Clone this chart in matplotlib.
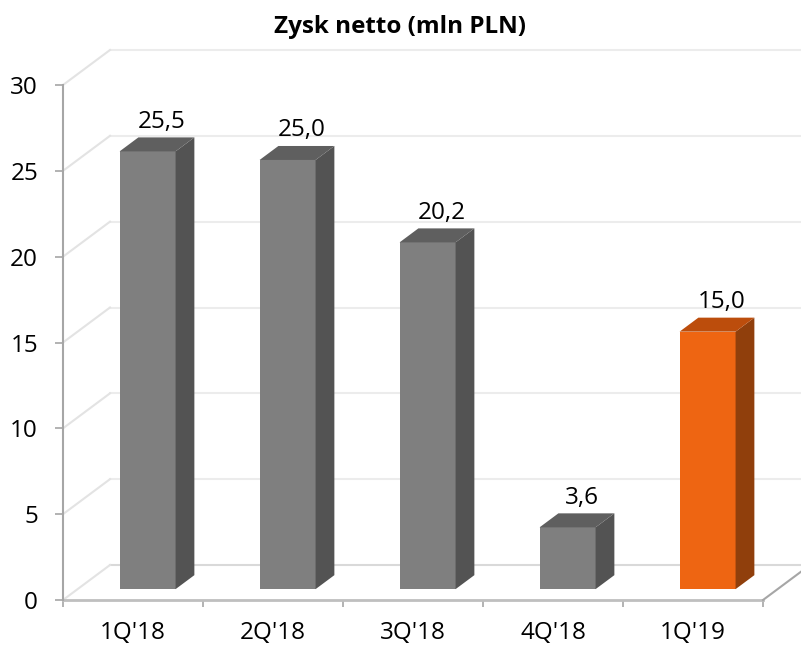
import numpy as np
import matplotlib.pyplot as plt

plt.rcParams['font.family'] = ['Open Sans', 'DejaVu Sans']

categories = ["1Q'18", "2Q'18", "3Q'18", "4Q'18", "1Q'19"]
values = [25.5, 25.0, 20.2, 3.6, 15.0]
labels = ["25,5", "25,0", "20,2", "3,6", "15,0"]
yticks = [0, 5, 10, 15, 20, 25, 30]

front_cols = ['#7f7f7f'] * 4 + ['#ee6512']
side_cols = ['#535353'] * 4 + ['#903f0c']
top_cols = ['#5f5f5f'] * 4 + ['#bc4d0c']

fig = plt.figure(figsize=(8.01, 6.45), dpi=100)
ax = fig.add_axes([63 / 801, 45 / 645, 738 / 801, 515 / 645])
ax.set_xlim(-0.5, -0.5 + 738 / 140)
ax.set_ylim(0, 30)

# depth of the "3d" box (data units)
DDX = 47 / 140
DDY = 35 / (515 / 30)

n = len(categories)
x = np.arange(n)

# walls: back gridlines, left wall diagonals, floor
for v in yticks:
    col = '#d9d9d9' if v == 0 else '#ececec'
    ax.plot([-0.5 + DDX, n - 0.5 + DDX], [v + DDY, v + DDY], color=col, lw=1.5,
            clip_on=False, zorder=1)
    ax.plot([-0.5, -0.5 + DDX], [v, v + DDY], color='#e3e3e3', lw=1.5,
            clip_on=False, zorder=1)
ax.plot([-0.5, n - 0.5], [0, 0], color='#bfbfbf', lw=2, clip_on=False, zorder=2)
ax.plot([n - 0.5, n - 0.5 + DDX], [0, DDY], color='#a6a6a6', lw=1.5,
        clip_on=False, zorder=2)

# bars
bw = 0.4
d0 = 0.31
bdx = 0.4 * DDX
bdy = 0.4 * DDY
b0 = d0 * DDY
xc = x + d0 * DDX
ax.bar(xc, values, width=bw, bottom=b0, color=front_cols, zorder=3)
for i, v in enumerate(values):
    xl = xc[i] - bw / 2
    xr = xc[i] + bw / 2
    top = b0 + v
    ax.fill([xr, xr, xr + bdx, xr + bdx], [b0, top, top + bdy, b0 + bdy],
            color=side_cols[i], lw=0, zorder=3)
    ax.fill([xl, xr, xr + bdx, xl + bdx], [top, top, top + bdy, top + bdy],
            color=top_cols[i], lw=0, zorder=3)
    ax.annotate(labels[i], (xc[i] + 0.1, top + bdy), xytext=(0, 7),
                textcoords='offset points', ha='center', va='baseline',
                fontsize=17.5, color='black', zorder=4)

# axes styling
for s in ['top', 'right', 'bottom']:
    ax.spines[s].set_visible(False)
ax.spines['left'].set_color('#a6a6a6')
ax.spines['left'].set_linewidth(1.5)
ax.set_yticks(yticks)
ax.tick_params(axis='y', length=6, width=1.2, color='#a6a6a6', labelsize=17.5, pad=12)
ax.set_xticks(np.arange(-0.5, n, 1.0))
ax.set_xticklabels([])
ax.set_xticks(x, categories, minor=True)
ax.tick_params(axis='x', which='major', length=5, width=1.2, color='#a6a6a6')
ax.tick_params(axis='x', which='minor', length=0, labelsize=17.5, pad=15)

fig.text(0.5, 1 - 33 / 645, 'Zysk netto (mln PLN)', ha='center', va='baseline',
         fontsize=17.5, fontweight='bold')

fig.savefig('out.png', dpi=100)
